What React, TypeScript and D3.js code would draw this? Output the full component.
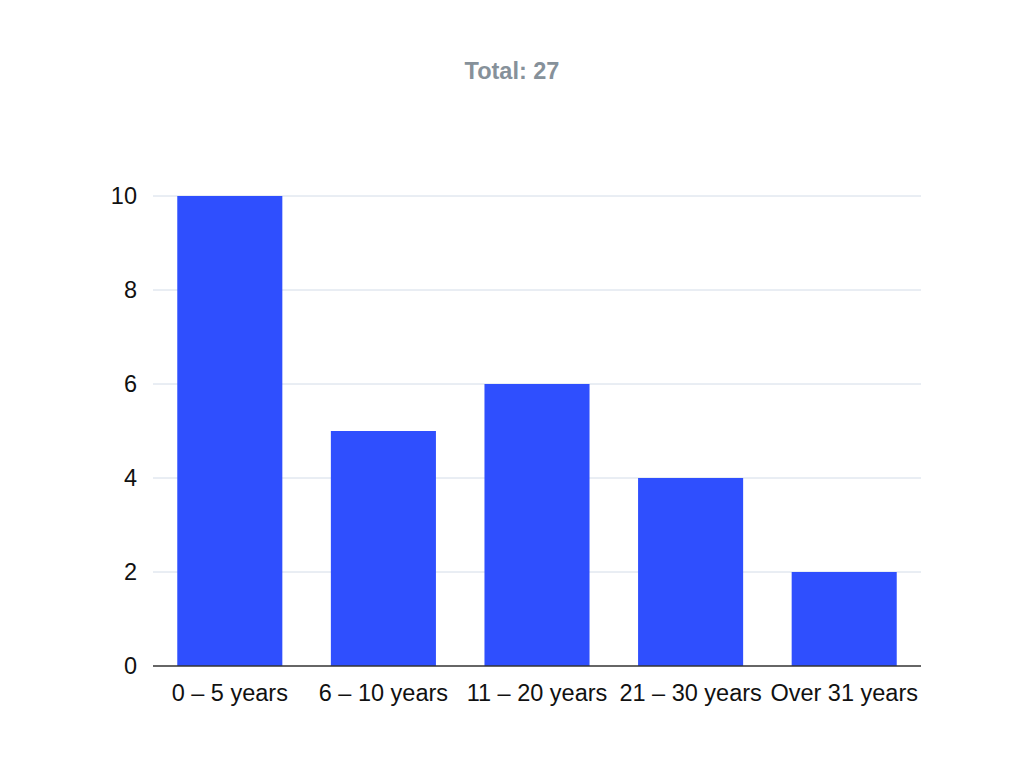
import React from "react";
import * as d3 from "d3";

const categories = ["0 – 5 years", "6 – 10 years", "11 – 20 years", "21 – 30 years", "Over 31 years"];
const values = [10, 5, 6, 4, 2];
const yTicks = [0, 2, 4, 6, 8, 10];
const title = "Total: 27";

export default function App() {
  const W = 1024, H = 783;
  const left = 153, right = 921, top = 196, bottom = 666;
  const x = d3.scaleBand<string>().domain(categories).range([left, right]).paddingInner(0.316).paddingOuter(0.158);
  const y = d3.scaleLinear().domain([0, 10]).range([bottom, top]);
  const font = "'Liberation Sans', Arial, Helvetica, sans-serif";
  return (
    <svg width={W} height={H} style={{ position: "absolute", left: 0, top: 0, background: "#fff" }} fontFamily={font}>
      <text x={512} y={79} textAnchor="middle" fontSize={23.5} fontWeight="bold" fill="#86919a">{title}</text>
      {yTicks.map((t) => (
        <g key={t}>
          {t !== 0 && <line x1={left} x2={right} y1={y(t)} y2={y(t)} stroke="#d3dce8" strokeWidth={1} />}
          <text x={137} y={y(t)} dy="0.35em" textAnchor="end" fontSize={23.5} fill="#111">{t}</text>
        </g>
      ))}
      {categories.map((c, i) => (
        <rect key={c} x={x(c)} y={y(values[i])} width={x.bandwidth()} height={bottom - y(values[i])} fill="#2f4ffe" />
      ))}
      <line x1={left} x2={right} y1={bottom} y2={bottom} stroke="#333" strokeWidth={1.5} />
      {categories.map((c) => (
        <text key={c} x={(x(c) as number) + x.bandwidth() / 2} y={693} dy="0.35em" textAnchor="middle" fontSize={23.5} fill="#111">{c}</text>
      ))}
    </svg>
  );
}
